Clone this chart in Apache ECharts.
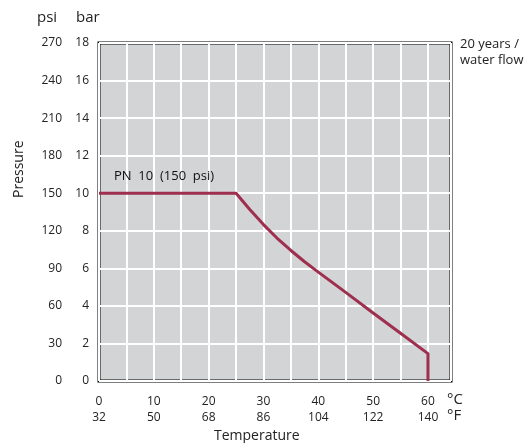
<!DOCTYPE html>
<html>
<head>
<meta charset="utf-8">
<script src="https://cdn.jsdelivr.net/npm/echarts@6/dist/echarts.min.js"></script>
<style>html,body{margin:0;padding:0;background:#fff;}#c{width:531px;height:443px;}</style>
</head>
<body>
<div id="c"></div>
<script>
// Data
var temperatureC = [0, 25, 27.5, 30, 32.5, 35, 37.5, 40, 45, 50, 55, 60, 60];
var pressureBar = [10, 10, 9.13, 8.33, 7.6, 6.95, 6.35, 5.8, 4.72, 3.62, 2.54, 1.46, 0];
var celsiusTicks = [0, 10, 20, 30, 40, 50, 60];
var fahrenheitTicks = [32, 50, 68, 86, 104, 122, 140];
var barTicks = [0, 2, 4, 6, 8, 10, 12, 14, 16, 18];
var psiTicks = [0, 30, 60, 90, 120, 150, 180, 210, 240, 270];

var FONT = 'Open Sans';
var chart = echarts.init(document.getElementById('c'), null, {renderer: 'canvas'});
function zip(xs, ys) { return xs.map(function (t, i) { return [t, ys[i]]; }); }

chart.setOption({
  animation: false,
  textStyle: {fontFamily: FONT},
  grid: {
    left: 99, right: 80, top: 43, bottom: 62,
    show: true, backgroundColor: '#d3d4d6', borderColor: '#000', borderWidth: 3
  },
  xAxis: {
    type: 'value', min: 0, max: 64.2, interval: 5,
    axisLine: {show: false}, axisTick: {show: false},
    splitLine: {show: true, lineStyle: {color: '#fff', width: 2}},
    axisLabel: {
      margin: 13, fontSize: 12, lineHeight: 16, color: '#222', fontFamily: FONT,
      showMaxLabel: false,
      formatter: function (v) {
        var i = celsiusTicks.indexOf(v);
        if (i < 0) return '';
        return celsiusTicks[i] + '\n' + fahrenheitTicks[i];
      }
    }
  },
  yAxis: [
    {
      type: 'value', min: barTicks[0], max: barTicks[barTicks.length - 1], interval: 2,
      position: 'left',
      axisLine: {show: false}, axisTick: {show: false},
      splitLine: {show: true, lineStyle: {color: '#fff', width: 2}},
      axisLabel: {margin: 10, fontSize: 12, color: '#222', fontFamily: FONT}
    },
    {
      type: 'value', min: psiTicks[0], max: psiTicks[psiTicks.length - 1], interval: 30,
      position: 'left', offset: 27,
      axisLine: {show: false}, axisTick: {show: false}, splitLine: {show: false},
      axisLabel: {margin: 10, fontSize: 12, color: '#222', fontFamily: FONT}
    }
  ],
  series: [
    {
      type: 'line', data: zip(temperatureC, pressureBar), xAxisIndex: 0, yAxisIndex: 0,
      showSymbol: false, symbol: 'none',
      lineStyle: {color: '#9e2f4e', width: 3, join: 'round', cap: 'butt'}
    }
  ],
  graphic: [
    {type: 'text', z: 100, left: 37, top: 10, style: {text: 'psi', font: '15px "Open Sans"', fill: '#222'}},
    {type: 'text', z: 100, left: 76, top: 10, style: {text: 'bar', font: '15px "Open Sans"', fill: '#222'}},
    {type: 'text', z: 100, left: 460, top: 36, style: {text: '20 years /\nwater flow', font: '13px "Open Sans"', lineHeight: 16, fill: '#222'}},
    {type: 'text', z: 100, left: 447, top: 392, style: {text: '°C', font: '15px "Open Sans"', fill: '#222'}},
    {type: 'text', z: 100, left: 447, top: 408, style: {text: '°F', font: '15px "Open Sans"', fill: '#222'}},
    {type: 'text', z: 100, left: 114, top: 170, style: {text: 'PN  10  (150  psi)', font: '13px "Open Sans"', fill: '#111'}},
    {type: 'text', z: 100, left: 214, top: 429, style: {text: 'Temperature', font: '14px "Open Sans"', fill: '#222'}},
    {type: 'text', z: 100, x: 12, y: 198, rotation: Math.PI / 2, style: {text: 'Pressure', font: '14px "Open Sans"', fill: '#222'}}
  ]
});
</script>
</body>
</html>
